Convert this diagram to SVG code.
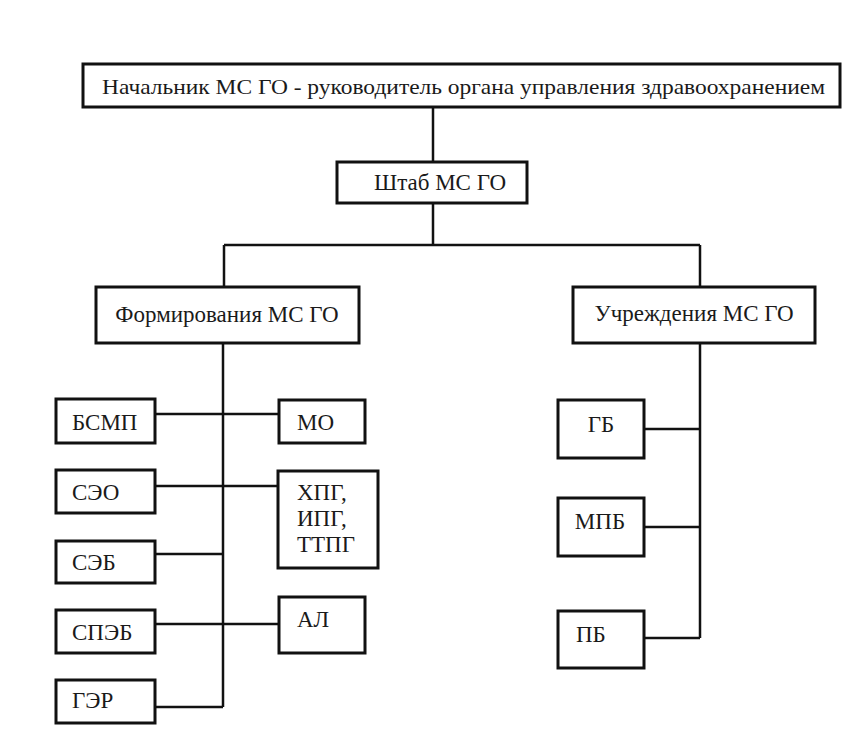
<svg xmlns="http://www.w3.org/2000/svg" width="845" height="747" viewBox="0 0 845 747">
<style>
.box{fill:#fff;stroke:#111;stroke-width:3}
text{font-family:"Liberation Serif","DejaVu Serif",serif;font-size:23px;fill:#1a1a1a}
.c{text-anchor:middle}
.ln{stroke:#111;stroke-width:2.5;fill:none}
</style>
<rect width="845" height="747" fill="#fff"/>
<g id="connectors">
<path class="ln" d="M433,107V162"/>
<path class="ln" d="M433,203V245M224,245H700M224,245V287M700,245V287"/>
<path class="ln" d="M223,343V707"/>
<path class="ln" d="M155,414H279M155,486H278M155,554H223M155,624H279M155,707H223"/>
<path class="ln" d="M700,343V638M644,429H700M644,527H700M644,638H700"/>
</g>
<g id="nachalnik">
<rect class="box" x="83" y="64" width="757" height="43"/>
<text x="102" y="94" textLength="723" lengthAdjust="spacingAndGlyphs" style="font-size:22px">Начальник МС ГО - руководитель органа управления здравоохранением</text>
</g>
<g id="shtab">
<rect class="box" x="337" y="162" width="190" height="41"/>
<text class="c" x="440" y="190">Штаб МС ГО</text>
</g>
<g id="formirovaniya">
<rect class="box" x="96" y="287" width="263" height="56"/>
<text class="c" x="227" y="322">Формирования МС ГО</text>
</g>
<g id="uchrezhdeniya">
<rect class="box" x="573" y="287" width="242" height="56"/>
<text class="c" x="694" y="321">Учреждения МС ГО</text>
</g>
<g id="bsmp">
<rect class="box" x="56" y="399" width="99" height="44"/>
<text x="72" y="430">БСМП</text>
</g>
<g id="seo">
<rect class="box" x="56" y="470" width="99" height="43"/>
<text x="72" y="500">СЭО</text>
</g>
<g id="seb">
<rect class="box" x="56" y="541" width="99" height="42"/>
<text x="72" y="570">СЭБ</text>
</g>
<g id="speb">
<rect class="box" x="56" y="610" width="99" height="43"/>
<text x="72" y="640">СПЭБ</text>
</g>
<g id="ger">
<rect class="box" x="56" y="680" width="99" height="43"/>
<text x="72" y="708">ГЭР</text>
</g>
<g id="mo">
<rect class="box" x="279" y="400" width="86" height="43"/>
<text x="297" y="430">МО</text>
</g>
<g id="xpg">
<rect class="box" x="278" y="471" width="100" height="97"/>
<text x="297" y="500">ХПГ,</text>
<text x="297" y="526">ИПГ,</text>
<text x="297" y="552">ТТПГ</text>
</g>
<g id="al">
<rect class="box" x="279" y="597" width="86" height="56"/>
<text x="297" y="627">АЛ</text>
</g>
<g id="gb">
<rect class="box" x="558" y="400" width="86" height="58"/>
<text class="c" x="601" y="432">ГБ</text>
</g>
<g id="mpb">
<rect class="box" x="558" y="498" width="86" height="58"/>
<text class="c" x="600" y="529">МПБ</text>
</g>
<g id="pb">
<rect class="box" x="558" y="611" width="86" height="57"/>
<text x="576" y="642">ПБ</text>
</g>
</svg>
